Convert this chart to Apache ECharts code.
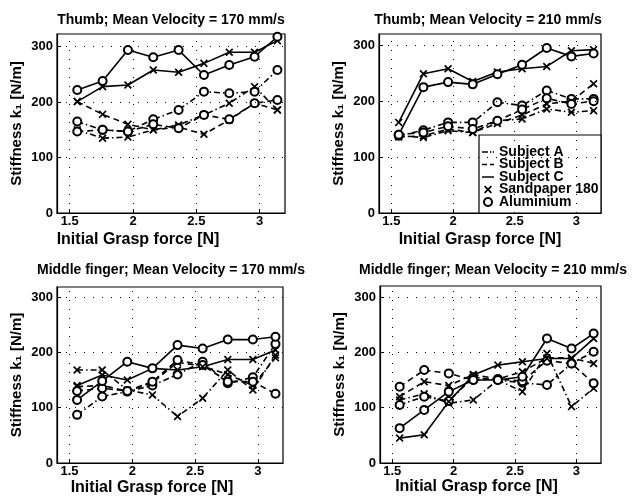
<!DOCTYPE html>
<html>
<head>
<meta charset="utf-8">
<script src="https://cdn.jsdelivr.net/npm/echarts@6/dist/echarts.min.js"></script>
<style>
  html, body { margin: 0; background: #fff; }
  #main { width: 634px; height: 502px; }
</style>
</head>
<body>
<div id="main"></div>
<script>
// initial grasp force of each trial [N]
var forceX = [1.56, 1.76, 1.96, 2.16, 2.36, 2.56, 2.76, 2.96, 3.14];
var xTicks = [1.5, 2, 2.5, 3];
var yTicks = [0, 100, 200, 300];

var titles = [
  'Thumb; Mean Velocity = 170 mm/s',
  'Thumb; Mean Velocity = 210 mm/s',
  'Middle finger; Mean Velocity = 170 mm/s',
  'Middle finger; Mean Velocity = 210 mm/s'
];
var legendNames = ['Subject A', 'Subject B', 'Subject C', 'Sandpaper 180', 'Aluminium'];

// stiffness k1 [N/m], subject / surface
// thumb 170 mm/s
var t170_A_sand = [150, 135, 137, 150, 159, 177, 198, 228, 186];
var t170_A_alu  = [165, 150, 147, 169, 186, 219, 216, 219, 258];
var t170_B_sand = [201, 178, 160, 150, 155, 142, 168, 198, 186];
var t170_B_alu  = [147, 150, 147, 160, 153, 177, 169, 198, 204];
var t170_C_sand = [201, 228, 231, 258, 254, 270, 290, 290, 311];
var t170_C_alu  = [222, 238, 294, 281, 294, 249, 267, 282, 318];
// thumb 210 mm/s
var t210_A_sand = [138, 135, 147, 144, 165, 168, 186, 180, 183];
var t210_A_alu  = [138, 148, 162, 162, 198, 192, 219, 204, 204];
var t210_B_sand = [136, 138, 150, 144, 160, 175, 195, 200, 231];
var t210_B_alu  = [140, 144, 155, 150, 165, 185, 205, 195, 200];
var t210_C_sand = [162, 249, 258, 235, 252, 258, 262, 290, 292];
var t210_C_alu  = [140, 225, 234, 230, 248, 265, 295, 280, 285];
// middle finger 170 mm/s
var m170_A_sand = [168, 168, 132, 123, 84, 117, 168, 132, 195];
var m170_A_alu  = [87, 120, 129, 140, 160, 183, 144, 155, 215];
var m170_B_sand = [138, 140, 130, 145, 182, 175, 160, 140, 190];
var m170_B_alu  = [130, 135, 130, 147, 186, 177, 147, 147, 125];
var m170_C_sand = [140, 159, 150, 171, 168, 174, 187, 187, 204];
var m170_C_alu  = [114, 148, 183, 171, 213, 207, 223, 223, 228];
// middle finger 210 mm/s
var m210_A_sand = [114, 125, 108, 114, 150, 129, 198, 102, 135];
var m210_A_alu  = [105, 120, 112, 155, 150, 145, 141, 180, 201];
var m210_B_sand = [120, 147, 140, 160, 152, 165, 190, 190, 180];
var m210_B_alu  = [138, 168, 162, 150, 152, 148, 185, 180, 144];
var m210_C_sand = [45, 51, 111, 159, 177, 183, 189, 189, 225];
var m210_C_alu  = [63, 96, 129, 150, 150, 156, 225, 207, 234];

var panels = [
  [t170_A_sand, t170_A_alu, t170_B_sand, t170_B_alu, t170_C_sand, t170_C_alu],
  [t210_A_sand, t210_A_alu, t210_B_sand, t210_B_alu, t210_C_sand, t210_C_alu],
  [m170_A_sand, m170_A_alu, m170_B_sand, m170_B_alu, m170_C_sand, m170_C_alu],
  [m210_A_sand, m210_A_alu, m210_B_sand, m210_B_alu, m210_C_sand, m210_C_alu]
];

var FONT = '"Liberation Sans", Arial, sans-serif';
var X_MARK = 'path://M0,1.5L1.5,0L5,3.5L8.5,0L10,1.5L6.5,5L10,8.5L8.5,10L5,6.5L1.5,10L0,8.5L3.5,5Z';
var dashA = [6, 3, 1.5, 3];   // subject A: dash-dot
var dashB = [6, 4];           // subject B: dashed
var lineTypes = [dashA, dashA, dashB, dashB, 'solid', 'solid'];
// short line samples for the legend
var legendIcons = [
  'path://M0,0h6v1.5h-6zM8,0h1.5v1.5h-1.5zM11,0h1v1.5h-1z',
  'path://M0,0h5v1.5h-5zM8,0h4v1.5h-4z',
  'path://M0,0h12v1.5h-12z',
  X_MARK,
  'emptyCircle'
];

var grids = [
  {left: 57, top: 34, width: 228, height: 179},
  {left: 379, top: 34, width: 222, height: 179},
  {left: 57, top: 287, width: 226, height: 176},
  {left: 380, top: 286, width: 221, height: 177}
];
var yMax = [323, 320, 318, 320];
var xNameGap = [19, 19, 17, 16];
var xNameShift = [66, 20, 36, 28];
var titlePos = [[171, 20], [488, 20], [171, 270], [493, 270]];

var myChart = echarts.init(document.getElementById('main'));

var series = [];
panels.forEach(function (set, g) {
  set.forEach(function (vals, k) {
    var isAlu = k % 2 == 1;
    var s = {
      type: 'line',
      name: 'p' + g + '_' + k,
      xAxisIndex: g,
      yAxisIndex: g,
      data: forceX.map(function (x, i) { return [x, vals[i]]; }),
      symbol: isAlu ? 'emptyCircle' : X_MARK,
      symbolSize: 8,
      showAllSymbol: true,
      lineStyle: {color: '#000', width: 1.6, type: lineTypes[k]},
      itemStyle: isAlu ? {color: '#000', borderColor: '#000', borderWidth: 1.3}
                       : {color: '#000', borderWidth: 0},
      emphasis: {disabled: true},
      silent: true
    };
    if (k == 0) {
      // dotted grid, like matlab's "grid on"
      s.markLine = {
        silent: true,
        symbol: ['none', 'none'],
        label: {show: false},
        lineStyle: {color: '#000', width: 1, type: [1, 8]},
        data: xTicks.map(function (v) { return {xAxis: v}; })
          .concat(yTicks.slice(1).map(function (v) { return {yAxis: v}; }))
      };
    }
    series.push(s);
  });
});

// empty series only for the legend entries
legendNames.forEach(function (n) {
  series.push({
    type: 'line', name: n, xAxisIndex: 1, yAxisIndex: 1, data: [],
    symbol: 'none', itemStyle: {color: '#000'}, lineStyle: {color: '#000'}
  });
});

var option = {
  animation: false,
  backgroundColor: '#fff',
  grid: grids.map(function (g) {
    return Object.assign({show: true, borderColor: '#000', borderWidth: 1.2, backgroundColor: 'transparent'}, g);
  }),
  xAxis: grids.map(function (g, i) {
    return {
      gridIndex: i, type: 'value', min: 1.4, max: 3.2,
      axisLine: {lineStyle: {color: '#000', width: 1.2}},
      axisTick: {inside: true, length: 4, customValues: xTicks, lineStyle: {color: '#000'}},
      axisLabel: {customValues: xTicks, color: '#000', fontSize: 13, fontWeight: 'bold', fontFamily: FONT, margin: 2},
      splitLine: {show: false},
      name: 'Initial Grasp force [N]',
      nameLocation: 'middle',
      nameGap: xNameGap[i],
      nameTextStyle: {color: '#000', fontSize: 16, fontWeight: 'bold', fontFamily: FONT, padding: [0, xNameShift[i], 0, 0]}
    };
  }),
  yAxis: grids.map(function (g, i) {
    return {
      gridIndex: i, type: 'value', min: 0, max: yMax[i],
      axisLine: {lineStyle: {color: '#000', width: 1.2}},
      axisTick: {inside: true, length: 4, customValues: yTicks, lineStyle: {color: '#000'}},
      axisLabel: {customValues: yTicks, color: '#000', fontSize: 13, fontWeight: 'bold', fontFamily: FONT, margin: 4},
      splitLine: {show: false},
      name: 'Stiffness k\u2081 [N/m]',
      nameLocation: 'middle',
      nameGap: 33,
      nameTextStyle: {color: '#000', fontSize: 15, fontWeight: 'bold', fontFamily: FONT}
    };
  }),
  legend: {
    orient: 'vertical',
    left: 482, top: 145,
    padding: 0, itemGap: -1.5,
    itemWidth: 12, itemHeight: 8,
    selectedMode: false,
    z: 5,
    textStyle: {color: '#000', fontSize: 14, fontWeight: 'bold', fontFamily: FONT},
    data: legendNames.map(function (n, i) {
      return {name: n, icon: legendIcons[i], itemStyle: {color: '#000', borderWidth: 0}};
    })
  },
  graphic: [
    {type: 'rect', z: 3, shape: {x: 479, y: 135, width: 122, height: 78},
     style: {fill: '#fff', stroke: '#000', lineWidth: 1.2}}
  ].concat(titles.map(function (t, i) {
    return {type: 'text', z: 5, x: titlePos[i][0], y: titlePos[i][1],
      style: {text: t, fill: '#000', align: 'center', verticalAlign: 'middle',
              font: 'bold 14px ' + FONT}};
  })),
  series: series
};

myChart.setOption(option);
</script>
</body>
</html>
